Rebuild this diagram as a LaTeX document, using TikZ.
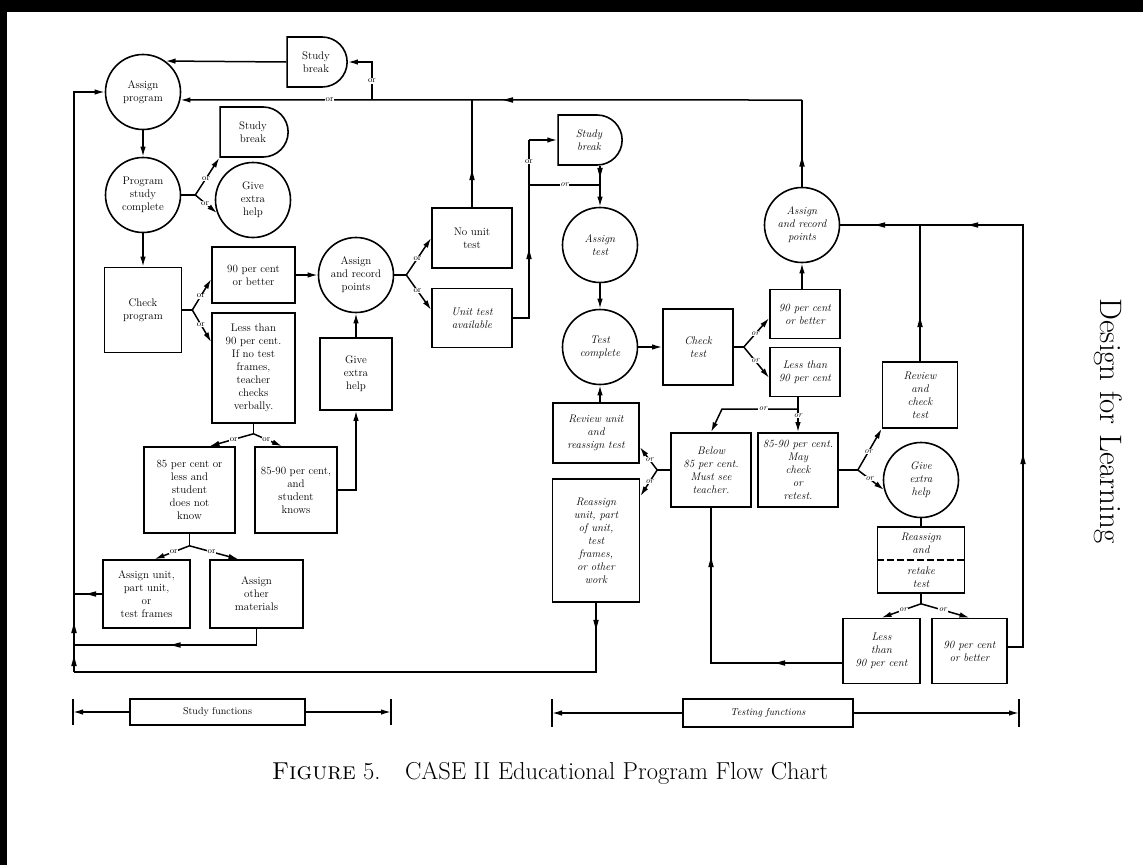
\documentclass[tikz,border=0pt]{standalone}
\usetikzlibrary{arrows.meta,shapes.misc,decorations.markings,calc}

\begin{document}
\begin{tikzpicture}[x=1pt,y=-1pt]
	\tikzset{>={Latex[length=10pt,width=5.5pt]}}
	\tikzset{
		every node/.style={font=\fontsize{11}{13}\selectfont, align=center},
		box/.style={draw, line width=1.6pt, inner sep=1pt},
		circ/.style={draw, circle, line width=1.6pt, minimum size=75pt, inner sep=0pt},
		brk/.style={draw, rounded rectangle, rounded rectangle left arc=none, line width=1.6pt, minimum height=50pt, inner sep=1pt},
		ital/.style={font=\fontsize{11}{13}\selectfont\itshape},
		ln/.style={line width=1.5pt},
		orlbl/.style={fill=white, inner sep=0.6pt, font=\fontsize{8.5}{9}\selectfont},
		ort/.style={orlbl, font=\fontsize{8.5}{9}\selectfont\itshape},
		marr/.style={postaction={decorate, decoration={markings, mark=at position #1 with {\fill (2pt,0pt) -- (-8pt,2.8pt) -- (-8pt,-2.8pt) -- cycle;}}}},
		tick/.style={line width=1.5pt}
	}
	\useasboundingbox (0,0) rectangle (1143,865);
	\fill (0,0) rectangle (1143,12);
	\fill (0,0) rectangle (7,865);

	\node[circ] (ap) at (143,92) {Assign\\program};
	\node[brk, minimum width=62pt] (brkA) at (316,62) {Study\\break};
	\node[circ] (psc) at (143,195) {Program\\study\\complete};
	\node[brk, minimum width=70pt] (brkB) at (253,132) {Study\\break};
	\node[circ] (helpA) at (253,200) {Give\\extra\\help};
	\node[box, minimum width=77pt, minimum height=85pt] (chkprog) at (143,310) {Check\\program};
	\node[box, minimum width=83pt, minimum height=56pt] (ninety) at (253.5,275) {90 per cent\\or better};
	\node[box, minimum width=83pt, minimum height=110pt] (lessninety) at (253.5,368) {Less than\\90 per cent.\\If no test\\frames,\\teacher\\checks\\verbally.};
	\node[circ] (ptsA) at (356,275) {Assign\\and record\\points};
	\node[box, minimum width=72pt, minimum height=72pt] (helpB) at (356,374) {Give\\extra\\help};
	\node[box, minimum width=91pt, minimum height=86pt] (eightyfive) at (189.5,490) {85 per cent or\\less and\\student\\does not\\know};
	\node[box, minimum width=82pt, minimum height=86pt] (mid85) at (296,490) {85-90 per cent,\\and\\student\\knows};
	\node[box, minimum width=87pt, minimum height=68pt] (unitA) at (146.5,594) {Assign unit,\\part unit,\\or\\test frames};
	\node[box, minimum width=93pt, minimum height=68pt] (other) at (256.5,594) {Assign\\other\\materials};
	\node[box, minimum width=80pt, minimum height=60pt] (nounit) at (472,238) {No unit\\test};
	\node[box, ital, minimum width=80pt, minimum height=59pt] (unittest) at (472,318) {Unit test\\available};

	\node[brk, ital, minimum width=66pt] (brkC) at (589,140) {Study\\break};
	\node[circ, ital] (atest) at (600,245) {Assign\\test};
	\node[circ, ital] (tcomplete) at (600,347) {Test\\complete};
	\node[box, ital, minimum width=70pt, minimum height=76pt] (chktest) at (698,347) {Check\\test};
	\node[box, ital, minimum width=70pt, minimum height=49pt] (ninetyT) at (805,314) {90 per cent\\or better};
	\node[box, ital, minimum width=70pt, minimum height=49pt] (lessT) at (805,372) {Less than\\90 per cent};
	\node[circ, ital] (ptsB) at (802,225) {Assign\\and record\\points};
	\node[box, ital, minimum width=86pt, minimum height=60pt] (revunit) at (596,433) {Review unit\\and\\reassign test};
	\node[box, ital, minimum width=87pt, minimum height=123pt] (reassign) at (596,540.5) {Reassign\\unit, part\\of unit,\\test\\frames,\\or other\\work};
	\node[box, ital, minimum width=80pt, minimum height=74pt] (below) at (711,470) {Below\\85 per cent.\\Must see\\teacher.};
	\node[box, ital, minimum width=80pt, minimum height=74pt] (mayretest) at (798,470) {85-90 per cent.\\May\\check\\or\\retest.};
	\node[box, ital, minimum width=75pt, minimum height=66pt] (revcheck) at (920,395) {Review\\and\\check\\test};
	\node[circ, ital] (helpC) at (921,480) {Give\\extra\\help};
	\node[box, ital, minimum width=87pt, minimum height=66pt] (retake) at (921,560) {Reassign\\and\\[8pt]retake\\test};
	\node[box, ital, minimum width=77pt, minimum height=65pt] (lessB) at (881.5,651) {Less\\than\\90 per cent};
	\node[box, ital, minimum width=75pt, minimum height=65pt] (ninetyB) at (969.5,651) {90 per cent\\or better};

	\coordinate (topR) at (802,100);
	\coordinate (jBrk) at (372,100);
	\coordinate (botL) at (74,672);
	\coordinate (otherL) at (74,645);
	\coordinate (orJ) at (529,185);
	\coordinate (fG) at (798,409);
	\coordinate (fGl) at (722,409);
	\coordinate (rR) at (1023,225);

	\draw[ln,->] (brkA.west) -- (ap.54);
	\draw[ln,->] (jBrk) |- (brkA.east) node[orlbl,pos=.25] {or};
	\draw[ln,marr=28pt] (ptsB.north) -- (topR);
	\draw[ln,->,marr=297pt] (topR) -- (ap.-12) node[orlbl,pos=.76] {or};
	\draw[ln,marr=35pt] (nounit.north) -- (nounit.north |- topR);

	\draw[ln,->] (ap.south) -- (psc.north);
	\draw[ln,->] (psc.south) -- (chkprog.north);
	\coordinate (fA) at ($(psc.east)+(14,0)$);
	\draw[ln] (psc.east) -- (fA);
	\draw[ln,->] (fA) -- (brkB.south west) node[orlbl,pos=.45] {or};
	\draw[ln,->] (fA) -- (helpA.200) node[orlbl,pos=.45] {or};

	\coordinate (fB) at ($(chkprog.east)+(10,0)$);
	\draw[ln] (chkprog.east) -- (fB);
	\draw[ln,->] (fB) -- ($(ninety.west)+(0,4)$) node[orlbl,pos=.45] {or};
	\draw[ln,->] (fB) -- ($(lessninety.north west)+(0,30)$) node[orlbl,pos=.45] {or};
	\draw[ln,->] (ninety.east) -- (ptsA.west);
	\draw[ln,->] (helpB.north) -- (ptsA.south);

	\coordinate (fC) at ($(ptsA.east)+(12,0)$);
	\draw[ln] (ptsA.east) -- (fC);
	\draw[ln,->] (fC) -- (nounit.west) node[orlbl,pos=.45] {or};
	\draw[ln,->] (fC) -- ($(unittest.west)+(0,-8)$) node[orlbl,pos=.45] {or};

	\coordinate (fD) at ($(lessninety.south)+(0,10)$);
	\draw[ln] (lessninety.south) -- (fD);
	\draw[ln,->] (fD) -- ($(eightyfive.north)+(20,0)$) node[orlbl,pos=.45] {or};
	\draw[ln,->] (fD) -- ($(mid85.north)+(-14,0)$) node[orlbl,pos=.45] {or};
	\draw[ln,->] (mid85.east) -| (helpB.south);

	\coordinate (fE) at ($(eightyfive.south)+(0,12)$);
	\draw[ln] (eightyfive.south) -- (fE);
	\draw[ln,->] (fE) -- ($(unitA.north)+(8,0)$) node[orlbl,pos=.45] {or};
	\draw[ln,->] (fE) -- ($(other.north)+(-18,0)$) node[orlbl,pos=.45] {or};

	\draw[ln,marr=14pt] (unitA.west) -- (unitA.west -| botL);
	\draw[ln,marr=100pt] (other.south) |- (otherL);
	\draw[ln,marr=25pt] (reassign.south) -- (reassign.south |- botL) -- (botL);
	\draw[ln,->,marr=14pt,marr=47pt] (botL) |- (ap.west);

	\draw[ln,marr=83pt] (unittest.east) -| (orJ |- brkC.west) node[orlbl,pos=.94] {or};
	\draw[ln,->] (orJ |- brkC.west) -- (brkC.west);
	\draw[ln] (orJ) -- (orJ -| atest.north) node[ort,midway] {or};
	\draw[ln,->,marr=10pt] (atest.north |- brkC.south) -- (atest.north);
	\draw[ln,->] (atest.south) -- (tcomplete.north);
	\draw[ln,->] (tcomplete.east) -- (chktest.west);

	\coordinate (fF) at ($(chktest.east)+(10,0)$);
	\draw[ln] (chktest.east) -- (fF);
	\draw[ln,->] (fF) -- ($(ninetyT.west)+(0,4)$) node[ort,pos=.45] {or};
	\draw[ln,->] (fF) -- ($(lessT.west)+(0,6)$) node[ort,pos=.45] {or};
	\draw[ln,->] (ptsB.south |- ninetyT.north) -- (ptsB.south);

	\draw[ln] (mayretest.north |- lessT.south) -- (fG);
	\draw[ln,->] (fG) -- (mayretest.north) node[ort,pos=.3] {or};
	\draw[ln,->] (fG) -- (fGl) node[ort,pos=.46] {or} -- (below.north);

	\coordinate (fH) at ($(below.west)+(-13,0)$);
	\draw[ln] (below.west) -- (fH);
	\draw[ln,->] (fH) -- ($(revunit.east)+(0,14)$) node[ort,pos=.45] {or};
	\draw[ln,->] (fH) -- ($(reassign.north east)+(0,18)$) node[ort,pos=.45] {or};
	\draw[ln,->] (tcomplete.south |- revunit.north) -- (tcomplete.south);

	\coordinate (fI) at ($(mayretest.east)+(19,0)$);
	\draw[ln] (mayretest.east) -- (fI);
	\draw[ln,->] (fI) -- (revcheck.south west) node[ort,pos=.45] {or};
	\draw[ln,->] (fI) -- (helpC.195) node[ort,pos=.45] {or};
	\draw[ln] (helpC.south) -- (retake.north);
	\draw[line width=2pt, dash pattern=on 7pt off 3pt] (retake.west) -- (retake.east);

	\coordinate (fJ) at ($(retake.south)+(0,10)$);
	\draw[ln] (retake.south) -- (fJ);
	\draw[ln,->] (fJ) -- (lessB.north) node[ort,pos=.45] {or};
	\draw[ln,->] (fJ) -- (ninetyB.north) node[ort,pos=.45] {or};

	\draw[ln,marr=65pt,marr=235pt] ($(lessB.west)+(0,12)$) -| (below.south);
	\draw[ln,marr=206pt,marr=490pt,marr=583pt] ($(ninetyB.east)+(0,-4)$) -| (rR) -- (ptsB.east);
	\draw[ln,marr=42pt] (revcheck.north) -- (revcheck.north |- ptsB.east);

	\node[box, line width=1.1pt, minimum width=175pt, minimum height=26pt, font=\fontsize{10}{11}\selectfont] (study) at (217.5,712) {Study functions};
	\coordinate (studyL) at (73,712);
	\coordinate (studyR) at (391,712);
	\draw[ln,->] (study.west) -- (studyL);
	\draw[ln,->] (study.east) -- (studyR);
	\draw[tick] ($(studyL)+(0,-13)$) -- ($(studyL)+(0,13)$);
	\draw[tick] ($(studyR)+(0,-13)$) -- ($(studyR)+(0,13)$);

	\node[box, line width=1.1pt, minimum width=170pt, minimum height=28pt, font=\fontsize{10}{11}\selectfont\itshape] (testing) at (768,713) {Testing functions};
	\coordinate (testL) at (552,713);
	\coordinate (testR) at (1019,713);
	\draw[ln,->] (testing.west) -- (testL);
	\draw[ln,->] (testing.east) -- (testR);
	\draw[tick] ($(testL)+(0,-14)$) -- ($(testL)+(0,14)$);
	\draw[tick] ($(testR)+(0,-14)$) -- ($(testR)+(0,14)$);

	\node[font=\fontsize{24.5}{28}\selectfont] (caption) at (550,773) {\textsc{Figure} 5.\quad CASE II Educational Program Flow Chart};
	\node[rotate=-90, font=\fontsize{31}{34}\selectfont] (side) at (1108,421) {Design for Learning};

\end{tikzpicture}
\end{document}
